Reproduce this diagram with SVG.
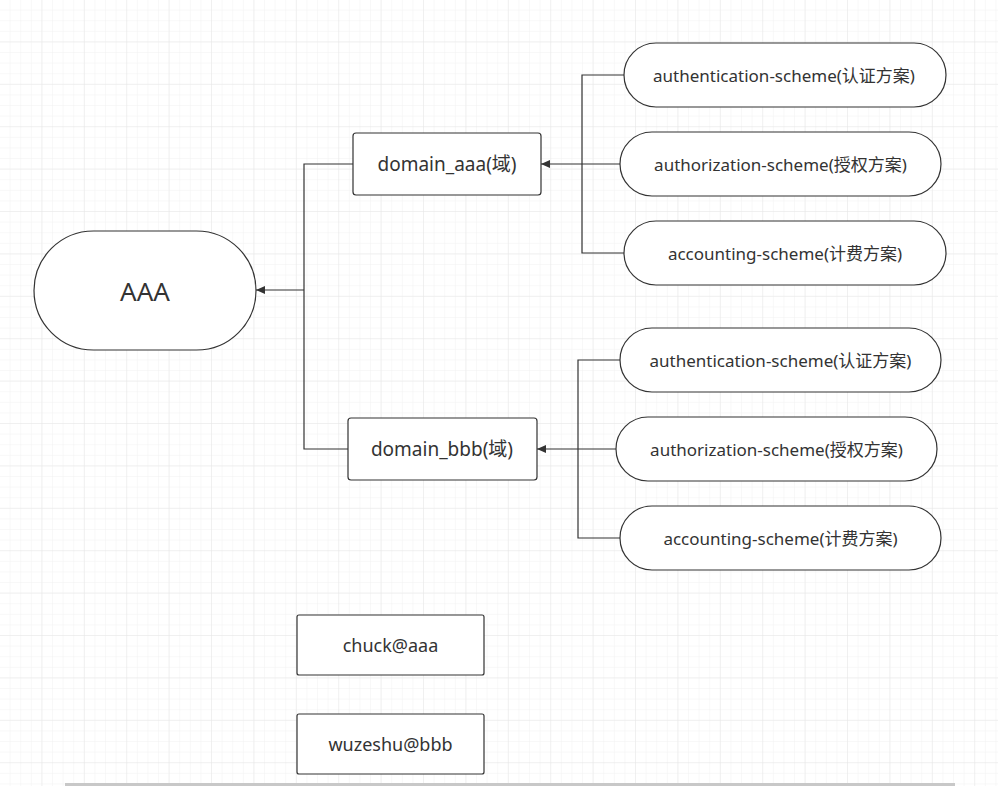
<svg xmlns="http://www.w3.org/2000/svg" width="998" height="786" viewBox="0 0 998 786">
<defs>
<pattern id="grid" width="10.6" height="10.6" patternUnits="userSpaceOnUse">
<path d="M10.6 0V10.6M0 10.6H10.6" fill="none" stroke="#f1f1f1" stroke-width="1"/>
</pattern>
<pattern id="grid2" width="42.4" height="42.4" patternUnits="userSpaceOnUse">
<path d="M42.4 0V42.4M0 42.4H42.4" fill="none" stroke="#e8e8e8" stroke-width="1"/>
</pattern>
<marker id="arr" markerWidth="10" markerHeight="8" refX="9" refY="4" orient="auto" markerUnits="userSpaceOnUse">
<path d="M0 0L9 4L0 8Z" fill="#333"/>
</marker>
<style>
.n{fill:#fff;stroke:#333;stroke-width:1.2}
.t{font-family:"Noto Sans","Noto Sans CJK SC",sans-serif;fill:#333;text-anchor:middle;dominant-baseline:central}
.s{font-size:17px}
.e{fill:none;stroke:#333;stroke-width:1.2}
</style>
</defs>
<rect width="998" height="786" fill="#fff"/>
<rect width="998" height="786" fill="url(#grid)"/>
<rect width="998" height="786" fill="url(#grid2)"/>
<rect x="65" y="783" width="890" height="3" fill="#c8c8c8"/>

<g id="connectors">
<path class="e" d="M624 75H582V253H624M620 164H582" />
<path class="e" d="M582 164H541" marker-end="url(#arr)"/>
<path class="e" d="M620 360H578V538H620M616 449H578" />
<path class="e" d="M578 449H537" marker-end="url(#arr)"/>
<path class="e" d="M353 164H304V449H348" />
<path class="e" d="M304 290H256" marker-end="url(#arr)"/>
</g>

<g id="aaa">
<rect class="n" x="34" y="231" width="222" height="119" rx="59.5"/>
<text class="t" x="145" y="291" font-size="26">AAA</text>
</g>
<g id="domain_aaa">
<rect class="n" x="353" y="133" width="188" height="62" rx="3"/>
<text class="t" x="447" y="164" font-size="19">domain_aaa(域)</text>
</g>
<g id="domain_bbb">
<rect class="n" x="348" y="418" width="189" height="62" rx="3"/>
<text class="t" x="442" y="449" font-size="19">domain_bbb(域)</text>
</g>
<g id="a_authn">
<rect class="n" x="624" y="43" width="322" height="64" rx="32"/>
<text class="t s" x="784" y="75">authentication-scheme(认证方案)</text>
</g>
<g id="a_authz">
<rect class="n" x="620" y="132" width="321" height="64" rx="32"/>
<text class="t s" x="780.5" y="164">authorization-scheme(授权方案)</text>
</g>
<g id="a_acct">
<rect class="n" x="624" y="221" width="322" height="64" rx="32"/>
<text class="t s" x="785" y="253">accounting-scheme(计费方案)</text>
</g>
<g id="b_authn">
<rect class="n" x="620" y="328" width="321" height="64" rx="32"/>
<text class="t s" x="780.5" y="360">authentication-scheme(认证方案)</text>
</g>
<g id="b_authz">
<rect class="n" x="616" y="417" width="321" height="64" rx="32"/>
<text class="t s" x="776.5" y="449">authorization-scheme(授权方案)</text>
</g>
<g id="b_acct">
<rect class="n" x="620" y="506" width="321" height="64" rx="32"/>
<text class="t s" x="780.5" y="538">accounting-scheme(计费方案)</text>
</g>
<g id="chuck">
<rect class="n" x="297" y="615" width="187" height="60" rx="2"/>
<text class="t" x="390.5" y="645" font-size="18">chuck@aaa</text>
</g>
<g id="wuzeshu">
<rect class="n" x="297" y="714" width="187" height="60" rx="2"/>
<text class="t" x="390.5" y="744" font-size="18">wuzeshu@bbb</text>
</g>
</svg>
